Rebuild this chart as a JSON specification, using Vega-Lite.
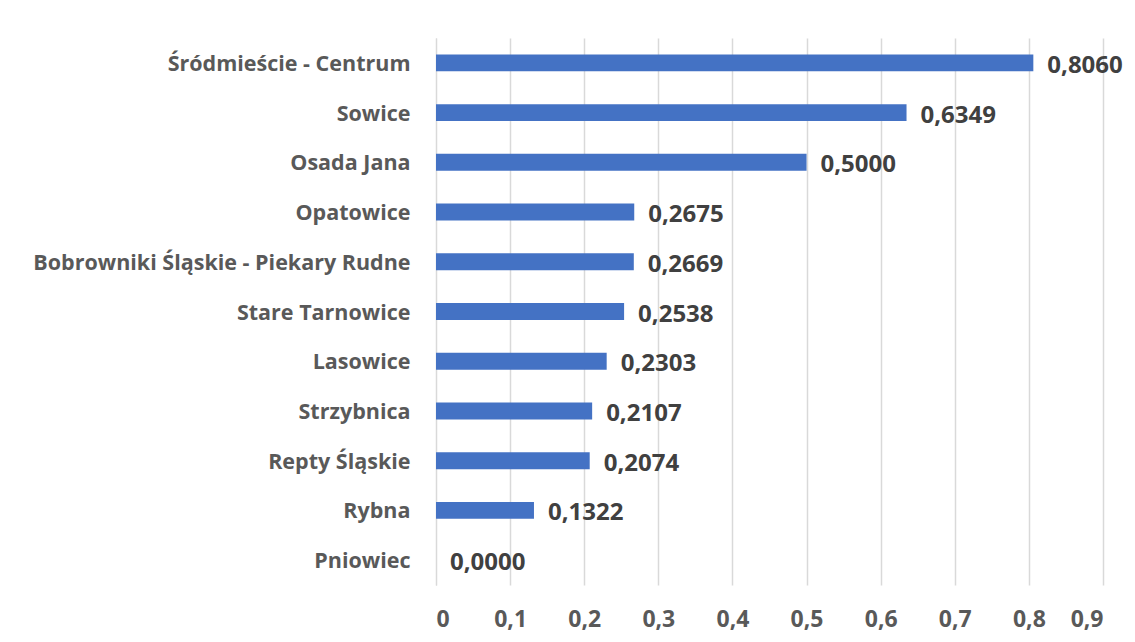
{
  "$schema": "https://vega.github.io/schema/vega-lite/v6.json",
  "autosize": "none",
  "width": 667,
  "height": 547,
  "padding": {"left": 436, "top": 38, "right": 32, "bottom": 57},
  "background": "white",
  "config": {"view": {"stroke": null}, "font": "Open Sans"},
  "data": {"values": [
    {"district": "Śródmieście - Centrum", "value": 0.8060, "label": "0,8060"},
    {"district": "Sowice", "value": 0.6349, "label": "0,6349"},
    {"district": "Osada Jana", "value": 0.5000, "label": "0,5000"},
    {"district": "Opatowice", "value": 0.2675, "label": "0,2675"},
    {"district": "Bobrowniki Śląskie - Piekary Rudne", "value": 0.2669, "label": "0,2669"},
    {"district": "Stare Tarnowice", "value": 0.2538, "label": "0,2538"},
    {"district": "Lasowice", "value": 0.2303, "label": "0,2303"},
    {"district": "Strzybnica", "value": 0.2107, "label": "0,2107"},
    {"district": "Repty Śląskie", "value": 0.2074, "label": "0,2074"},
    {"district": "Rybna", "value": 0.1322, "label": "0,1322"},
    {"district": "Pniowiec", "value": 0.0000, "label": "0,0000"}
  ]},
  "encoding": {
    "y": {"field": "district", "type": "nominal", "sort": {"field": "value", "order": "descending"},
      "scale": {"paddingInner": 0.66, "paddingOuter": 0.33},
      "axis": {"title": null, "ticks": false, "domain": true, "domainColor": "#D9D9D9", "labelFont": "Open Sans", "labelFontWeight": "bold", "labelFontSize": 21.5, "labelColor": "#595959", "labelPadding": 26, "labelLimit": 430, "labelOffset": 2}},
    "x": {"field": "value", "type": "quantitative",
      "scale": {"domain": [0, 0.9], "nice": false},
      "axis": {"title": null, "values": [0,0.1,0.2,0.3,0.4,0.5,0.6,0.7,0.8,0.9], "labelExpr": "replace(format(datum.value, '.1~f'), '.', ',')", "grid": true, "gridColor": "#D9D9D9", "gridWidth": 1.5, "domain": false, "ticks": false, "labelFont": "Open Sans", "labelFontWeight": "bold", "labelFontSize": 23, "labelColor": "#595959", "labelPadding": 23}}
  },
  "layer": [
    {"mark": {"type": "bar", "color": "#4472C4"}},
    {"mark": {"type": "text", "align": "left", "baseline": "middle", "dx": 14, "dy": 3, "font": "Open Sans", "fontWeight": "bold", "fontSize": 24, "color": "#404040"},
      "encoding": {"text": {"field": "label"}}}
  ]
}
